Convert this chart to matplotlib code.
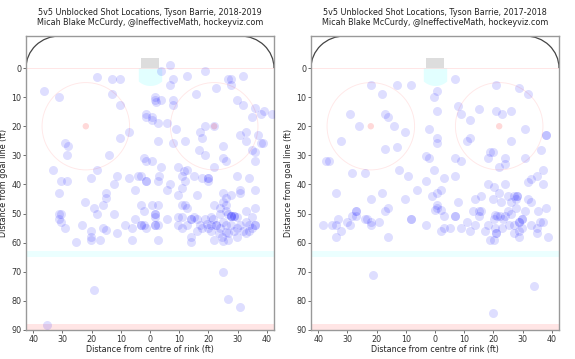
import numpy as np
import matplotlib
matplotlib.use("Agg")
import matplotlib.pyplot as plt
from matplotlib.patches import Arc, Circle, Rectangle
from matplotlib.ticker import FuncFormatter

# Shot locations: x = ft from centre of rink, y = ft from goal line
SEASON_1819 = "2018-2019"
X_1819 = [6.8, 3.9, 19.0, -18.3, -13.1, -10.2, 7.9, 12.8, 26.9, 27.9, 31.9, 6.8, 27.9,
          -36.2, -31.3, -13.1, 22.7, 15.9, 1.6, 1.6, 1.9, 3.9, 7.9, 7.9, -10.2, 29.9,
          31.9, 36.0, 39.0, 37.9, 41.7, 35.1, -1.2, -1.2, 0.8, 0.8, 2.9, 5.9, 19.0,
          22.0, 8.9, 17.0, 17.9, 30.8, 32.9, 37.0, 32.9, -7.2, -10.2, -29.1, -28.0,
          -28.5, 2.8, 7.9, 11.9, 24.9, 37.9, 38.8, 35.1, 16.8,
          -14.1, -18.3, -33.2, -2.1, 0.8, -1.2, 3.9, 9.7, 12.8, 11.5, 19.0, 25.0,
          25.9, 21.9, 36.0, 36.0, -30.4, -28.3, -31.3, -20.2, -11.2, -7.2, -4.2, -3.2,
          -1.2, -1.2, 3.1, 2.9, 6.8, 5.9, 10.9, 10.9, 12.0, 15.0, 17.9, 19.8, 19.8,
          19.8, 29.9, 33.9, 36.0, -12.2, -15.2, -15.2, -16.2, -5.1, -22.3, -19.3,
          -18.3, -12.2, -31.3, -30.4, -31.3, -30.4, -29.2, -23.2, -20.3, -20.3, -17.1,
          -16.2, -15.2, -11.2, -25.2, -8.4, -6.1, -5.1, -3.2, -2.1, -3.2, -3.2, -2.1,
          -1.2, 0.8, 2.9, 1.7, 1.7, 1.7, 1.7, 1.7, 2.9, 2.9, 5.9, 9.7, 10.9, 12.0,
          12.8, 9.7, 10.9, 9.7, 10.9, 12.8, 13.9, 13.9, 15.0, 13.9, 13.9, 16.0, 16.0,
          17.0, 16.0, 17.9, 19.8, 19.0, 20.8, 21.7, 20.8, 22.7, 22.7, 21.9, 23.6,
          24.8, 25.9, 24.9, 25.9, 27.9, 30.8, 30.8, 21.9, 23.9, 24.9, 25.9, 23.9,
          25.9, 26.8, 27.9, 27.9, 27.9, 28.9, 28.9, 29.9, 32.9, 36.0, 35.1, 32.9,
          33.9, 36.0, 36.0, 35.1, 33.9, 32.9, 30.8, 29.9, 27.9, 25.9, 24.9, 23.9,
          26.8, 28.9, 31.9, 29.9, 20.8, 19.4,
          -20.3, -6.3, 24.9, 26.8, 24.9, -19.2, 26.9, 30.8, -35.2]
Y_1819 = [-1.0, 1.0, 0.9, 3.0, 3.9, 3.9, 3.9, 2.9, 3.9, 3.9, 2.9, 5.9, 5.7,
          7.9, 9.9, 8.9, 7.0, 8.9, 9.9, 10.9, 11.7, 10.9, 10.9, 12.8, 12.8, 10.9,
          12.8, 13.9, 14.9, 15.8, 15.8, 16.8, 15.8, 16.8, 16.8, 17.9, 18.9, 18.9, 19.9,
          20.0, 20.9, 21.9, 23.9, 22.9, 21.9, 22.9, 25.0, 21.9, 23.9, 25.9, 26.8,
          29.9, 25.0, 25.9, 25.0, 26.9, 25.9, 25.9, 28.0, 28.0,
          29.9, 34.9, 34.9, 31.0, 32.0, 32.0, 33.9, 33.9, 34.9, 35.5, 29.9, 31.0,
          32.0, 33.9, 29.0, 32.0, 38.9, 38.9, 43.0, 37.9, 37.0, 37.9, 37.0, 37.0,
          38.9, 38.9, 37.0, 38.9, 40.0, 41.9, 37.0, 41.1, 38.9, 37.0, 37.9, 37.9, 37.9,
          38.9, 37.0, 37.9, 41.9, 40.0, 43.0, 44.8, 46.9, 41.9, 45.9, 48.0,
          50.0, 50.0, 50.0, 50.0, 51.9, 53.0, 54.9, 54.0, 56.0, 58.0, 59.1,
          54.9, 55.7, 56.8, 59.9, 54.0, 54.9, 51.9, 47.1, 49.1, 54.0, 54.0, 54.0,
          54.9, 47.1, 47.1, 50.0, 50.0, 51.1, 54.0, 54.0, 54.0, 59.1, 51.9, 43.6, 47.1, 47.1,
          48.0, 51.1, 51.1, 54.0, 54.9, 54.0, 51.9, 51.9, 51.1, 58.0, 59.9, 43.6, 51.9,
          54.0, 56.0, 54.9, 54.9, 51.9, 51.1, 51.9, 56.0, 54.0, 54.0, 59.1, 56.8,
          58.0, 56.5, 43.0, 44.8, 43.6, 41.9, 43.0, 47.1, 48.0, 45.9, 47.1, 50.0,
          49.1, 50.0, 50.9, 50.9, 50.9, 50.9, 50.9, 51.1, 49.1, 48.0, 51.1, 52.8,
          54.0, 54.0, 54.0, 54.9, 56.0, 56.8, 54.0, 54.9, 54.0, 54.0, 52.8, 54.9,
          56.8, 56.0, 56.0, 58.0, 54.0, 53.7,
          59.1, 59.1, 59.3, 59.0, 70.2, 76.2, 79.3, 82.2, 88.3]

SEASON_1718 = "2017-2018"
X_1718 = [6.8, -22.1, -13.1, -8.2, -18.1, 0.7, -0.2, 7.9, 0.8, 8.9, 15.0, 11.9,
          20.9, 28.9, 31.9, 20.9, 23.0, 25.9, -29.2, -17.0, -16.1, -26.1, -14.1, -10.2,
          -32.2, -2.2, 0.8, 0.8, 31.0, 38.0, 38.0, 11.0, 12.0, 25.9, -13.1, -17.0,
          -37.3, -36.4, -28.3, -24.1, -3.1, -2.2, 7.0, 9.0, 19.0, 19.8, 18.1, 24.1,
          24.1, 21.8, 31.0, 36.3, -12.2, -9.2, -0.2, -3.1, 3.0, 7.0, -6.2, -10.2,
          -1.0, 0.8, 1.9, 0.8, 0.8, -0.1, 1.9, 3.0, 7.0, 7.0, 7.9, 3.0, 1.9, 5.0,
          9.0, 11.0, 12.0, 13.8, 15.0, 13.8, 15.9, 12.9, 15.0, 15.9, 17.0, 18.1,
          20.1, 21.8, 19.8, 24.1, 22.7, 25.0, 27.0, 28.1, 28.1, 27.9, 26.2, 27.9,
          25.0, 26.2, 24.1, 22.4, 21.3, 20.1, 20.7, 23.3, 29.8, 29.8, 28.9, 28.9,
          30.7, 31.9, 32.8, 31.9, 33.0, 35.1, 37.1, 37.1, 38.0, 35.3, 36.0, 37.0,
          32.8, 35.1, 27.0, 25.2, 23.0, 20.7, 18.1, 29.8, 28.9, 27.0, 28.9, 20.9,
          20.9, 19.0, 20.1, 35.1, 38.9, -34.1, -38.3, -35.3, -34.1, -33.2, -32.2,
          -34.1, -30.1, -29.3, -28.3, -27.0, -27.0, -27.0, -24.1, -23.2, -22.1,
          -22.1, -19.3, -22.1, -18.1, -17.0, -16.1, -16.1, -8.1, -8.1, -3.1,
          -21.2, 34.1, 20.0]
Y_1718 = [3.9, 6.0, 6.0, 6.0, 8.9, 8.0, 10.0, 12.9, 14.9, 15.9, 14.0, 18.0,
          6.0, 7.0, 8.9, 14.9, 15.9, 14.9, 15.9, 15.9, 16.8, 19.9, 19.9, 22.0,
          25.0, 21.0, 24.0, 25.9, 21.0, 23.0, 23.0, 25.0, 24.0, 25.0, 27.0, 27.8,
          32.0, 32.0, 35.9, 35.9, 30.1, 31.0, 31.0, 32.0, 29.0, 29.0, 31.0, 31.0,
          33.0, 33.9, 31.0, 28.1, 34.9, 37.0, 34.9, 38.9, 37.9, 37.0, 41.9, 45.0,
          43.9, 43.0, 41.9, 46.9, 48.0, 48.9, 48.9, 51.0, 51.0, 51.0, 45.9, 54.9, 56.0, 54.9,
          54.9, 53.0, 56.0, 53.9, 51.0, 45.0, 43.9, 49.1, 49.1, 49.1, 56.0, 40.0,
          40.9, 43.0, 45.0, 40.0, 45.9, 43.9, 43.9, 43.9, 43.9, 45.0, 45.9, 48.0,
          49.1, 50.1, 51.0, 51.0, 51.0, 51.9, 50.5, 51.9, 51.9, 51.9, 53.0, 53.0,
          49.1, 45.0, 45.9, 39.3, 38.1, 37.0, 34.9, 40.0, 48.0, 49.1, 53.0, 53.0,
          53.9, 54.9, 53.9, 53.9, 54.9, 54.9, 53.9, 54.9, 56.0, 56.8, 58.0, 56.8,
          56.8, 59.1, 59.1, 56.8, 58.0, 43.0, 53.9, 53.9, 53.9, 51.9, 56.0,
          58.0, 53.0, 53.9, 51.0, 49.1, 49.1, 51.0, 51.9, 51.9, 53.9,
          53.0, 53.0, 45.0, 43.0, 49.1, 48.0, 58.0, 51.9, 51.9, 53.9,
          71.1, 75.0, 84.1]

PLAYER = "Tyson Barrie"
CREDIT = "Micah Blake McCurdy, @IneffectiveMath, hockeyviz.com"
X_TICKS = [-40, -30, -20, -10, 0, 10, 20, 30, 40]
Y_TICKS = [0, 10, 20, 30, 40, 50, 60, 70, 80, 90]

FS = 5.8


def draw_rink(ax):
    # corner boards
    ax.add_patch(Arc((-31, 0), 23, 22, theta1=180, theta2=270, color="#444444", lw=0.9))
    ax.add_patch(Arc((31, 0), 23, 22, theta1=270, theta2=360, color="#444444", lw=0.9))
    # goal line
    ax.plot([-42.5, 42.5], [0, 0], color="red", alpha=0.1, lw=0.7)
    # net and crease
    ax.add_patch(Rectangle((-3, -3.6), 6, 3.6, color="#dddddd", lw=0))
    cx = np.linspace(-4, 4, 60)
    ax.fill_between(cx, 0, np.sqrt(36 - cx ** 2), color="#e2ffff", lw=0)
    # faceoff circles
    for fx in (-22, 22):
        ax.add_patch(Circle((fx, 20), 15, fill=False, ec="red", alpha=0.09, lw=0.7))
        ax.add_patch(Circle((fx, 20), 1.1, color="red", alpha=0.15, lw=0))
    # blue line, centre line
    ax.axhspan(63, 65, color="cyan", alpha=0.08, lw=0)
    ax.axhspan(88, 90, color="red", alpha=0.1, lw=0)


fig = plt.figure(figsize=(5.75, 3.59), dpi=100)
positions = [[26 / 575, 29 / 359, 248 / 575, 294 / 359],
             [311 / 575, 29 / 359, 248 / 575, 294 / 359]]

for pos, season, xs, ys in [(positions[0], SEASON_1819, X_1819, Y_1819),
                            (positions[1], SEASON_1718, X_1718, Y_1718)]:
    ax = fig.add_axes(pos)
    draw_rink(ax)
    ax.scatter(xs, ys, s=42, color="blue", alpha=0.13, lw=0, zorder=3)
    ax.set_xlim(-42.5, 42.5)
    ax.set_ylim(90, -11)
    ax.set_xticks(X_TICKS)
    ax.set_yticks(Y_TICKS)
    ax.xaxis.set_major_formatter(FuncFormatter(lambda v, p: f"{abs(v):.0f}"))
    ax.tick_params(labelsize=FS, length=2, width=0.5, pad=1.5, colors="#333333")
    for sp in ax.spines.values():
        sp.set_color("#999999")
        sp.set_linewidth(1.0)
    ax.set_xlabel("Distance from centre of rink (ft)", fontsize=FS, labelpad=1, color="#222222")
    ax.set_ylabel("Distance from goal line (ft)", fontsize=FS, labelpad=2, color="#222222")
    ax.set_title(f"5v5 Unblocked Shot Locations, {PLAYER}, {season}\n{CREDIT}",
                 fontsize=FS, pad=8, color="#222222", linespacing=1.15)

fig.savefig("out.png", dpi=100)
